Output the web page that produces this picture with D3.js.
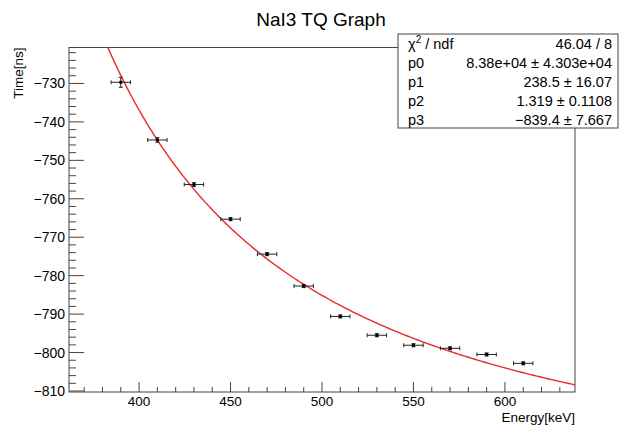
<!DOCTYPE html>
<html>
<head>
<meta charset="utf-8">
<script src="https://cdn.jsdelivr.net/npm/d3@7"></script>
<style>
  html, body { margin: 0; padding: 0; background: #fff; }
  svg { display: block; font-family: "Liberation Sans", Arial, Helvetica, sans-serif; }
</style>
</head>
<body>
<svg id="chart" width="621" height="427"></svg>
<script>
// Measured points: energy (keV) vs time (ns), with errors
const energy    = [390, 410, 430, 450, 470, 490, 510, 530, 550, 570, 590, 610];
const energyErr = [5.3, 5.3, 5.3, 5.3, 5.3, 5.3, 5.3, 5.3, 5.3, 5.3, 5.3, 5.3];
const time      = [-729.7, -744.7, -756.3, -765.3, -774.4, -782.7, -790.6, -795.5, -798.1, -798.9, -800.5, -802.8];
const timeErr   = [1.3, 0.6, 0.5, 0.4, 0.4, 0.4, 0.4, 0.4, 0.4, 0.4, 0.4, 0.4];

// Fit result f(x) = p0 / (x - p1)^p2 + p3
const fitParams = [83800, 238.5, 1.319, -839.4];
const statNames  = ["p0", "p1", "p2", "p3"];
const statValues = ["8.38e+04", "238.5", "1.319", "\u2212839.4"];
const statErrors = ["4.303e+04", "16.07", "0.1108", "7.667"];
const chi2ndf = "46.04 / 8";

const xTicks = [400, 450, 500, 550, 600];
const yTicks = [-730, -740, -750, -760, -770, -780, -790, -800, -810];

const svg = d3.select("#chart");
const frame = { left: 69, right: 575, top: 47.5, bottom: 392 };
const axisColor = "#444";

const x = d3.scaleLinear().domain([361.7, 638.3]).range([frame.left, frame.right]);
const y = d3.scaleLinear().domain([-810.26, -720.65]).range([frame.bottom, frame.top]);

const fmtMinus = v => String(v).replace("-", "\u2212");

// clip region for the plotting area
svg.append("defs").append("clipPath").attr("id", "plotClip")
  .append("rect")
  .attr("x", frame.left).attr("y", frame.top)
  .attr("width", frame.right - frame.left).attr("height", frame.bottom - frame.top);

// frame
svg.append("rect")
  .attr("x", frame.left).attr("y", frame.top)
  .attr("width", frame.right - frame.left).attr("height", frame.bottom - frame.top)
  .attr("fill", "none").attr("stroke", axisColor).attr("stroke-width", 1);

// x axis: major every 50, minor every 10
const xAxis = svg.append("g").attr("class", "x-axis");
const xMinor = d3.range(370, 640, 10).filter(v => v % 50 !== 0);
xAxis.selectAll("line.minor").data(xMinor).join("line")
  .attr("x1", d => x(d)).attr("x2", d => x(d))
  .attr("y1", frame.bottom).attr("y2", frame.bottom - 5)
  .attr("stroke", axisColor);
xAxis.selectAll("line.major").data(xTicks).join("line")
  .attr("x1", d => x(d)).attr("x2", d => x(d))
  .attr("y1", frame.bottom).attr("y2", frame.bottom - 10)
  .attr("stroke", axisColor);
xAxis.selectAll("text").data(xTicks).join("text")
  .attr("x", d => x(d)).attr("y", 406)
  .attr("text-anchor", "middle").attr("font-size", 13.5)
  .text(d => d);

// y axis: major every 10, minor every 2
const yAxis = svg.append("g").attr("class", "y-axis");
const yMinor = d3.range(-810, -720, 2).filter(v => v % 10 !== 0);
yAxis.selectAll("line.minor").data(yMinor).join("line")
  .attr("x1", frame.left).attr("x2", frame.left + 7)
  .attr("y1", d => y(d)).attr("y2", d => y(d))
  .attr("stroke", axisColor);
yAxis.selectAll("line.major").data(yTicks).join("line")
  .attr("x1", frame.left).attr("x2", frame.left + 15)
  .attr("y1", d => y(d)).attr("y2", d => y(d))
  .attr("stroke", axisColor);
yAxis.selectAll("text").data(yTicks).join("text")
  .attr("x", 65).attr("y", d => y(d))
  .attr("text-anchor", "end").attr("dominant-baseline", "central").attr("font-size", 14)
  .text(d => fmtMinus(d));

// axis titles
svg.append("text")
  .attr("x", frame.right).attr("y", 422)
  .attr("text-anchor", "end").attr("font-size", 13.5)
  .text("Energy[keV]");
svg.append("text")
  .attr("transform", `translate(23, ${frame.top}) rotate(-90)`)
  .attr("text-anchor", "end").attr("font-size", 13.5)
  .text("Time[ns]");

// title
svg.append("text")
  .attr("x", 321).attr("y", 26)
  .attr("text-anchor", "middle").attr("font-size", 19)
  .text("NaI3 TQ Graph");

// fit curve
const fitFn = v => fitParams[0] / Math.pow(v - fitParams[1], fitParams[2]) + fitParams[3];
const xs = d3.range(375, 640, 1);
svg.append("path")
  .datum(xs)
  .attr("clip-path", "url(#plotClip)")
  .attr("fill", "none").attr("stroke", "#e8282b").attr("stroke-width", 1.4)
  .attr("d", d3.line().x(d => x(d)).y(d => y(fitFn(d))));

// data points with error bars
const pts = energy.map((e, i) => ({ e, ex: energyErr[i], t: time[i], et: timeErr[i] }));
const g = svg.append("g").attr("clip-path", "url(#plotClip)");
const pg = g.selectAll("g.pt").data(pts).join("g").attr("class", "pt");
pg.append("line")
  .attr("x1", d => x(d.e - d.ex)).attr("x2", d => x(d.e + d.ex))
  .attr("y1", d => y(d.t)).attr("y2", d => y(d.t))
  .attr("stroke", "#222").attr("stroke-width", 1);
pg.append("line")
  .attr("x1", d => x(d.e)).attr("x2", d => x(d.e))
  .attr("y1", d => y(d.t - d.et)).attr("y2", d => y(d.t + d.et))
  .attr("stroke", "#222").attr("stroke-width", 1);
// end caps
pg.each(function(d) {
  const s = d3.select(this);
  [d.e - d.ex, d.e + d.ex].forEach(v => {
    s.append("line")
      .attr("x1", x(v)).attr("x2", x(v))
      .attr("y1", y(d.t) - 2).attr("y2", y(d.t) + 2)
      .attr("stroke", "#222");
  });
  [d.t - d.et, d.t + d.et].forEach(v => {
    s.append("line")
      .attr("x1", x(d.e) - 2).attr("x2", x(d.e) + 2)
      .attr("y1", y(v)).attr("y2", y(v))
      .attr("stroke", "#222");
  });
});
pg.append("rect")
  .attr("x", d => x(d.e) - 1.5).attr("y", d => y(d.t) - 1.5)
  .attr("width", 3).attr("height", 3).attr("fill", "#000");

// statistics box
const box = { left: 398, right: 618, top: 34, bottom: 128 };
const sb = svg.append("g").attr("class", "stats");
sb.append("rect")
  .attr("x", box.left).attr("y", box.top)
  .attr("width", box.right - box.left).attr("height", box.bottom - box.top)
  .attr("fill", "#fff").attr("stroke", axisColor).attr("stroke-width", 1);

const statFont = 14.5;
const rowY = i => 44 + i * 19;
const chiLabel = sb.append("text")
  .attr("x", 408).attr("y", rowY(0)).attr("dominant-baseline", "central").attr("font-size", statFont);
chiLabel.append("tspan").text("\u03C7");
chiLabel.append("tspan").attr("font-size", 10).attr("dy", -5).text("2");
chiLabel.append("tspan").attr("dy", 5).text(" / ndf");
sb.append("text")
  .attr("x", 612).attr("y", rowY(0)).attr("text-anchor", "end")
  .attr("dominant-baseline", "central").attr("font-size", statFont)
  .text(chi2ndf);

statNames.forEach((name, i) => {
  sb.append("text")
    .attr("x", 408).attr("y", rowY(i + 1))
    .attr("dominant-baseline", "central").attr("font-size", statFont)
    .text(name);
  sb.append("text")
    .attr("x", 612).attr("y", rowY(i + 1)).attr("text-anchor", "end")
    .attr("dominant-baseline", "central").attr("font-size", statFont)
    .text(`${statValues[i]} \u00B1 ${statErrors[i]}`);
});
</script>
</body>
</html>
